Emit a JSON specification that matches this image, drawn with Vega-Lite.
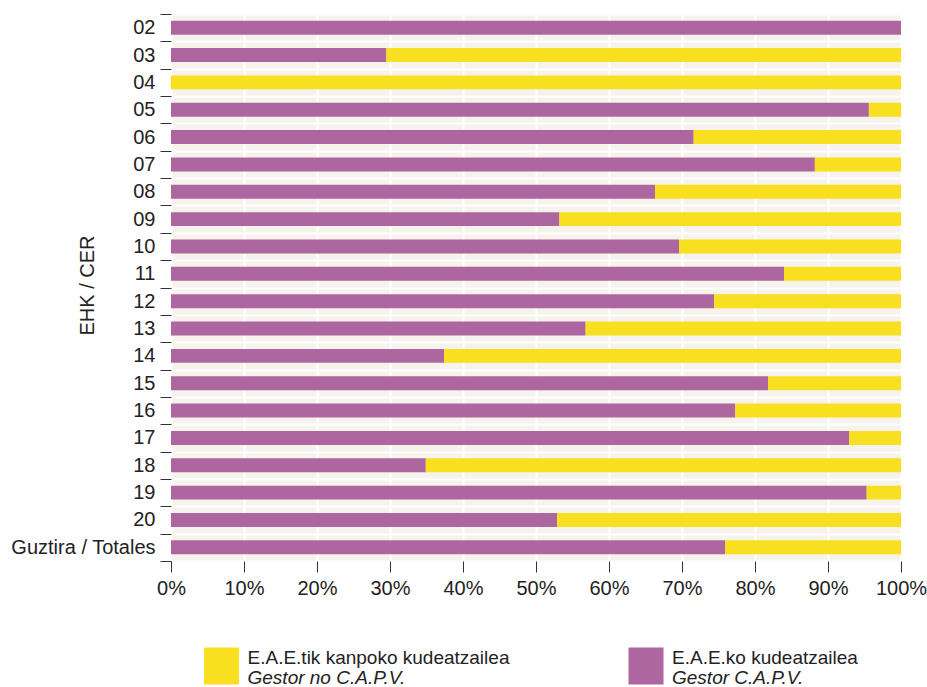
{
  "$schema": "https://vega.github.io/schema/vega-lite/v6.json",
  "background": "white",
  "padding": {"left": 10, "top": 4, "right": 5, "bottom": 0},
  "config": {"font": "Liberation Sans", "view": {"stroke": null}},
  "spacing": 48,
  "resolve": {"scale": {"x": "independent", "y": "independent"}},
  "vconcat": [
    {
      "width": 730,
      "height": 547,
      "view": {"fill": "#f5f3eb", "stroke": null},
      "data": {
        "values": [
          {"cer": "02", "grp": "E.A.E.ko kudeatzailea", "pct": 100},
          {"cer": "02", "grp": "E.A.E.tik kanpoko kudeatzailea", "pct": 0},
          {"cer": "03", "grp": "E.A.E.ko kudeatzailea", "pct": 29.5},
          {"cer": "03", "grp": "E.A.E.tik kanpoko kudeatzailea", "pct": 70.5},
          {"cer": "04", "grp": "E.A.E.ko kudeatzailea", "pct": 0},
          {"cer": "04", "grp": "E.A.E.tik kanpoko kudeatzailea", "pct": 100},
          {"cer": "05", "grp": "E.A.E.ko kudeatzailea", "pct": 95.6},
          {"cer": "05", "grp": "E.A.E.tik kanpoko kudeatzailea", "pct": 4.4},
          {"cer": "06", "grp": "E.A.E.ko kudeatzailea", "pct": 71.6},
          {"cer": "06", "grp": "E.A.E.tik kanpoko kudeatzailea", "pct": 28.4},
          {"cer": "07", "grp": "E.A.E.ko kudeatzailea", "pct": 88.2},
          {"cer": "07", "grp": "E.A.E.tik kanpoko kudeatzailea", "pct": 11.8},
          {"cer": "08", "grp": "E.A.E.ko kudeatzailea", "pct": 66.3},
          {"cer": "08", "grp": "E.A.E.tik kanpoko kudeatzailea", "pct": 33.7},
          {"cer": "09", "grp": "E.A.E.ko kudeatzailea", "pct": 53.2},
          {"cer": "09", "grp": "E.A.E.tik kanpoko kudeatzailea", "pct": 46.8},
          {"cer": "10", "grp": "E.A.E.ko kudeatzailea", "pct": 69.6},
          {"cer": "10", "grp": "E.A.E.tik kanpoko kudeatzailea", "pct": 30.4},
          {"cer": "11", "grp": "E.A.E.ko kudeatzailea", "pct": 84.0},
          {"cer": "11", "grp": "E.A.E.tik kanpoko kudeatzailea", "pct": 16.0},
          {"cer": "12", "grp": "E.A.E.ko kudeatzailea", "pct": 74.4},
          {"cer": "12", "grp": "E.A.E.tik kanpoko kudeatzailea", "pct": 25.6},
          {"cer": "13", "grp": "E.A.E.ko kudeatzailea", "pct": 56.8},
          {"cer": "13", "grp": "E.A.E.tik kanpoko kudeatzailea", "pct": 43.2},
          {"cer": "14", "grp": "E.A.E.ko kudeatzailea", "pct": 37.4},
          {"cer": "14", "grp": "E.A.E.tik kanpoko kudeatzailea", "pct": 62.6},
          {"cer": "15", "grp": "E.A.E.ko kudeatzailea", "pct": 81.8},
          {"cer": "15", "grp": "E.A.E.tik kanpoko kudeatzailea", "pct": 18.2},
          {"cer": "16", "grp": "E.A.E.ko kudeatzailea", "pct": 77.3},
          {"cer": "16", "grp": "E.A.E.tik kanpoko kudeatzailea", "pct": 22.7},
          {"cer": "17", "grp": "E.A.E.ko kudeatzailea", "pct": 92.9},
          {"cer": "17", "grp": "E.A.E.tik kanpoko kudeatzailea", "pct": 7.1},
          {"cer": "18", "grp": "E.A.E.ko kudeatzailea", "pct": 34.9},
          {"cer": "18", "grp": "E.A.E.tik kanpoko kudeatzailea", "pct": 65.1},
          {"cer": "19", "grp": "E.A.E.ko kudeatzailea", "pct": 95.3},
          {"cer": "19", "grp": "E.A.E.tik kanpoko kudeatzailea", "pct": 4.7},
          {"cer": "20", "grp": "E.A.E.ko kudeatzailea", "pct": 52.9},
          {"cer": "20", "grp": "E.A.E.tik kanpoko kudeatzailea", "pct": 47.1},
          {"cer": "Guztira / Totales", "grp": "E.A.E.ko kudeatzailea", "pct": 75.9},
          {"cer": "Guztira / Totales", "grp": "E.A.E.tik kanpoko kudeatzailea", "pct": 24.1}
        ]
      },
      "mark": {"type": "bar", "height": {"band": 0.51}},
      "encoding": {
        "y": {
          "field": "cer",
          "type": "nominal",
          "sort": null,
          "scale": {"paddingInner": 0, "paddingOuter": 0},
          "axis": {
            "title": "EHK / CER",
            "tickBand": "extent",
            "grid": true,
            "gridColor": "white",
            "gridWidth": 2,
            "domain": false,
            "tickSize": 11,
            "tickColor": "#333",
            "labelFontSize": 20,
            "labelColor": "#222",
            "labelPadding": 5,
            "titleFontSize": 20,
            "titleFontWeight": "normal",
            "titleColor": "#222",
            "titleX": -84,
            "titleY": 271,
            "titleAngle": -90,
            "titleAlign": "center",
            "titleBaseline": "middle"
          }
        },
        "x": {
          "field": "pct",
          "type": "quantitative",
          "stack": "zero",
          "scale": {"domain": [0, 100], "nice": false},
          "axis": {
            "title": null,
            "values": [0, 10, 20, 30, 40, 50, 60, 70, 80, 90, 100],
            "labelExpr": "datum.value + '%'",
            "grid": true,
            "gridColor": "white",
            "gridWidth": 2,
            "domain": false,
            "tickSize": 11,
            "tickColor": "#333",
            "labelFontSize": 20,
            "labelColor": "#222",
            "labelPadding": 6,
            "labelFlush": false
          }
        },
        "color": {
          "field": "grp",
          "type": "nominal",
          "scale": {"domain": ["E.A.E.tik kanpoko kudeatzailea", "E.A.E.ko kudeatzailea"], "range": ["#f8df1f", "#ad669f"]},
          "legend": null
        },
        "order": {"field": "grp", "sort": "ascending"}
      }
    },
    {
      "width": 600,
      "height": 40,
      "data": {
        "values": [
          {"key": "E.A.E.tik kanpoko kudeatzailea", "es": "Gestor no C.A.P.V."},
          {"key": "E.A.E.ko kudeatzailea", "es": "Gestor C.A.P.V."}
        ]
      },
      "encoding": {
        "x": {
          "field": "key",
          "type": "nominal",
          "bandPosition": 0.2878,
          "scale": {"type": "band", "domain": ["E.A.E.tik kanpoko kudeatzailea", "E.A.E.ko kudeatzailea"], "paddingInner": 0.5866, "paddingOuter": 0},
          "axis": null
        }
      },
      "layer": [
        {
          "mark": {"type": "point", "shape": "M-0.946,-1L0.946,-1L0.946,1L-0.946,1Z", "size": 1369, "filled": true, "opacity": 1, "strokeWidth": 0},
          "encoding": {
            "color": {
              "field": "key",
              "type": "nominal",
              "scale": {"domain": ["E.A.E.tik kanpoko kudeatzailea", "E.A.E.ko kudeatzailea"], "range": ["#f8df1f", "#ad669f"]},
              "legend": null
            }
          }
        },
        {
          "mark": {"type": "text", "align": "left", "baseline": "middle", "dx": 26, "dy": -8, "fontSize": 19, "color": "#222"},
          "encoding": {"text": {"field": "key"}}
        },
        {
          "mark": {"type": "text", "align": "left", "baseline": "middle", "dx": 26, "dy": 12, "fontSize": 19, "fontStyle": "italic", "color": "#222"},
          "encoding": {"text": {"field": "es"}}
        }
      ]
    }
  ]
}
